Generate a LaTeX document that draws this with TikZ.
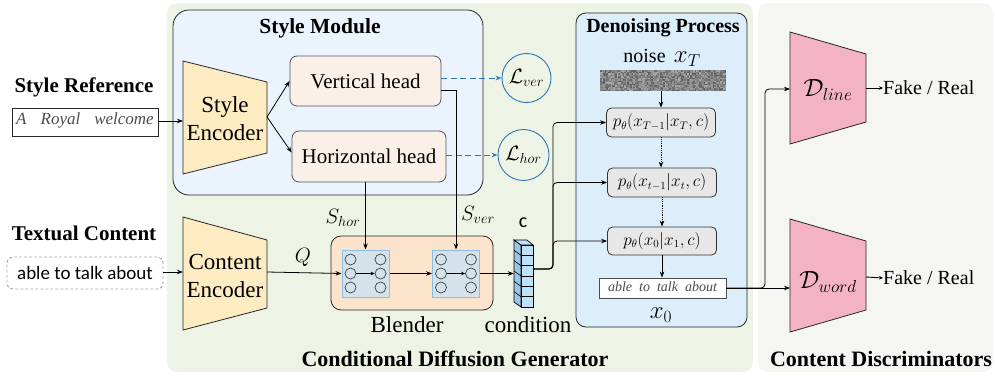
\documentclass[tikz,border=0pt]{standalone}
\usepackage{fontspec}
\setmainfont{Liberation Serif}
\newfontfamily\tms{Liberation Serif}
\newfontfamily\calib{Carlito}
\usetikzlibrary{arrows.meta,calc}
\definecolor{greenbg}{HTML}{EDF3E5}
\definecolor{graybg}{HTML}{F5F5F1}
\definecolor{stylebg}{HTML}{EBF3FC}
\definecolor{denbg}{HTML}{DDEEFB}
\definecolor{encfill}{HTML}{FDEBC1}
\definecolor{headfill}{HTML}{FBF0E8}
\definecolor{headdraw}{HTML}{4A5568}
\definecolor{lossblue}{HTML}{2E75B6}
\definecolor{blendfill}{HTML}{FCE3CB}
\definecolor{gridfill}{HTML}{D4E2EB}
\definecolor{griddraw}{HTML}{8BBDE6}
\definecolor{discfill}{HTML}{F4B3C2}
\definecolor{stepfill}{HTML}{E7E7E7}
\definecolor{condA}{HTML}{BFE1F8}
\definecolor{condB}{HTML}{9CC6E6}
\tikzset{
  arr/.style={-{Stealth[length=6pt,width=4.5pt]}, line width=0.8pt},
  smallarr/.style={-{Stealth[length=4pt,width=3.5pt]}, line width=0.9pt},
  ttl/.style={font=\tms\bfseries\fontsize{21}{23}\selectfont, inner sep=0pt},
  bigttl/.style={font=\tms\bfseries\fontsize{22}{24}\selectfont, inner sep=0pt},
  lbl/.style={font=\tms\fontsize{20}{22}\selectfont, inner sep=0pt},
  biglbl/.style={font=\tms\fontsize{23}{28}\selectfont, inner sep=0pt, align=center},
  headbox/.style={draw=headdraw, fill=headfill, rounded corners=7pt, line width=0.8pt, inner sep=0pt, font=\tms\fontsize{21}{23}\selectfont},
  stepbox/.style={draw=black!80, fill=stepfill, rounded corners=5pt, line width=0.8pt, inner sep=0pt, minimum width=109pt, minimum height=29pt, font=\fontsize{16}{18}\selectfont},
  lossnode/.style={circle, draw=lossblue, line width=0.9pt, minimum size=49pt, inner sep=0pt, font=\fontsize{21}{22}\selectfont},
  trapline/.style={draw=black!85, line width=0.8pt},
  blendgrid/.style={draw=griddraw, fill=gridfill, line width=1pt, minimum width=47pt, minimum height=47pt, inner sep=0pt},
  neuron/.style={circle, draw=black!75, minimum size=11pt, inner sep=0pt, line width=0.7pt},
  bgbox/.style={rounded corners=10pt, inner sep=0pt},
  hand/.style={text=black!70, inner sep=0pt},
}
\begin{document}
\begin{tikzpicture}[x=1pt,y=-1pt]
\useasboundingbox (0,0) rectangle (995,375);
% backgrounds
\node[bgbox, fill=greenbg, minimum width=586pt, minimum height=369pt] (gen) at (460,187.5) {};
\node[bgbox, fill=graybg, minimum width=235pt, minimum height=369pt] (discbg) at (875.5,187.5) {};
\node[bgbox, draw=black!85, line width=0.8pt, fill=stylebg, minimum width=310pt, minimum height=185pt, rounded corners=16pt] (stylemod) at (328,102.5) {};
\node[bgbox, draw=black!85, line width=0.8pt, fill=denbg, minimum width=171pt, minimum height=314pt] (den) at (661.5,170) {};

% titles
\node[ttl, font=\tms\bfseries\fontsize{21.5}{23}\selectfont] (tstyle) at (320,28) {Style Module};
\node[ttl, font=\tms\bfseries\fontsize{20}{22}\selectfont] (tden) at (663,28) {Denoising Process};
\node[ttl] (tsref) at (84,87) {Style Reference};
\node[ttl] (ttext) at (84,233) {Textual Content};
\node[bigttl] (tgen) at (455,359) {Conditional Diffusion Generator};
\node[bigttl] (tdisc) at (881,359) {Content Discriminators};

% inputs
\node[draw=black!85, line width=0.8pt, fill=white, minimum width=146pt, minimum height=28pt, inner sep=0pt] (sref) at (85,122) {};
\node[hand, font=\tms\itshape\fontsize{17}{18}\selectfont] (srefhand) at (85,120) {A\hspace{14pt}Royal\hspace{14pt}welcome};
\node[draw=black!35, dash pattern=on 3pt off 2pt, line width=0.9pt, rounded corners=6pt, minimum width=156pt, minimum height=32pt, inner sep=0pt, font=\calib\fontsize{19}{21}\selectfont] (tcont) at (85,273) {able to talk about};

% style encoder
\draw[trapline, fill=encfill] (183,61) -- (267,82) -- (267,153) -- (183,174) -- cycle;
\node[biglbl] (senc) at (225,119) {Style\\Encoder};
\coordinate (sencIn) at (183,121);
\coordinate (sencOut) at (267,117);
% content encoder
\draw[trapline, fill=encfill] (183,217) -- (267,240) -- (267,308) -- (183,330) -- cycle;
\node[biglbl] (cenc) at (225,276) {Content\\Encoder};
\coordinate (cencIn) at (183,272);
\coordinate (cencOut) at (267,272);

\draw[arr] (sref.east |- sencIn) -- (sencIn);
\draw[arr] (tcont.east |- cencIn) -- (cencIn);

% heads
\node[headbox, minimum width=151pt, minimum height=50pt] (vh) at (365.5,81) {Vertical head};
\node[headbox, minimum width=154pt, minimum height=51pt] (hh) at (369,156.5) {Horizontal head};
\draw[arr] (sencOut) -- (vh.west);
\draw[arr] (sencOut) -- ($(hh.west)+(0,-4)$);

% losses
\node[lossnode] (lv) at (526.5,78) {$\mathcal{L}_{ver}$};
\node[lossnode, minimum width=51pt, minimum height=50pt] (lh) at (523.5,155) {$\mathcal{L}_{hor}$};
\draw[arr, lossblue, line width=1pt, dash pattern=on 6pt off 3.5pt] (vh.east |- lv.west) -- (lv.west);
\draw[arr, lossblue, line width=1pt, dash pattern=on 6pt off 3.5pt] (hh.east |- lh.west) -- (lh.west);

% blender
\node[bgbox, draw=black!85, line width=0.8pt, fill=blendfill, minimum width=162pt, minimum height=74pt] (blend) at (412,273) {};
\node[blendgrid] (g1) at (365.5,273.5) {};
\node[blendgrid] (g2) at (456,273.5) {};
\foreach \g in {g1,g2}{
  \foreach \r/\dy in {1/-14,2/0,3/14}{
    \node[neuron] (\g L\r) at ($(\g)+(-15,\dy)$) {};
    \node[neuron] (\g R\r) at ($(\g)+(15,\dy)$) {};
  }
  \draw[smallarr] (\g L2) -- (\g R2);
}
\node[biglbl] (lblend) at (407,325) {Blender};
\node[lbl, font=\fontsize{20}{21}\selectfont] (lq) at (303,257) {$Q$};
\draw[arr] (cencOut) -- (g1.west);
\draw[arr] (g1.east) -- (g2.west);
\draw[arr] (g1.north |- hh.south) -- (g1.north);
\draw[arr] ($(vh.east)+(0,9)$) -| (g2.north);
\node[lbl, font=\fontsize{20}{21}\selectfont] (lshor) at (343,218) {$S_{hor}$};
\node[lbl, font=\fontsize{20}{21}\selectfont] (lsver) at (478,215) {$S_{ver}$};

% condition stack
\node[minimum width=19pt, minimum height=67pt, inner sep=0pt] (cond) at (523.5,273.5) {};
\draw[line width=0.7pt, fill=condB] (514,240) -- (521,245) -- (521,307) -- (514,302) -- cycle;
\draw[line width=0.7pt, fill=condA] (514,240) -- (527,240) -- (533,245) -- (521,245) -- cycle;
\draw[line width=0.7pt, fill=condA] (521,245) rectangle (533,307);
\foreach \k in {1,...,5}{
  \draw[line width=0.6pt] (521,245+10.33*\k) -- (533,245+10.33*\k);
  \draw[line width=0.6pt] (514,240+10.33*\k) -- (521,245+10.33*\k);
}
\draw[arr] (g2.east) -- (cond.west |- g2.east);
\node[font=\calib\fontsize{20}{22}\selectfont, inner sep=0pt] (lc) at (523,223) {c};
\node[biglbl] (lcond) at (528,325) {condition};
\coordinate (condOut) at (533,269);

% denoising
\node[lbl] (lnoise) at (662,58) {noise \,{\fontsize{24}{24}\selectfont$x_T$}};
\node[fill=black!45, minimum width=126pt, minimum height=21pt, inner sep=0pt] (noise) at (663,80.5) {};
\pgfmathsetseed{7}
\foreach \i in {0,...,83}{
  \foreach \j in {0,...,13}{
    \pgfmathsetmacro\gv{int(33+rnd*32)}
    \fill[black!\gv] (600+1.5*\i,70+1.5*\j) rectangle ++(1.5,1.5);
  }
}
\node[stepbox] (s1) at (661,122.5) {$p_\theta(x_{T-1}|x_T,c)$};
\node[stepbox] (s2) at (662,182.5) {$p_\theta(x_{t-1}|x_t,c)$};
\node[stepbox, minimum height=28pt] (s3) at (662,241) {$p_\theta(x_0|x_1,c)$};
\node[draw=black!70, line width=0.8pt, fill=white, minimum width=127pt, minimum height=20pt, inner sep=0pt] (out) at (662.5,288) {};
\node[hand, font=\tms\itshape\fontsize{14}{15}\selectfont] (outhand) at (662.5,287) {able\hspace{7pt}to\hspace{7pt}talk\hspace{7pt}about};
\node[biglbl, font=\fontsize{26}{27}\selectfont] (lx0) at (661,315) {$x_0$};
\draw[arr] (noise.south -| s1.north) -- (s1.north);
\draw[arr, densely dotted] (s1.south) -- (s1.south |- s2.north);
\draw[arr, densely dotted] (s2.south) -- (s3.north);
\draw[arr] (s3.south) -- (out.north -| s3.south);
\foreach \s in {s1,s2,s3}{
  \draw[arr, rounded corners=4pt] (condOut) -- (553,269) |- (\s.west);
}

% discriminators
\draw[trapline, fill=discfill] (790,32) -- (866,54) -- (866,122) -- (790,144) -- cycle;
\node[font=\fontsize{24}{25}\selectfont, inner sep=0pt] (dl) at (828,90) {$\mathcal{D}_{line}$};
\draw[trapline, fill=discfill] (790,219) -- (866,241) -- (866,310) -- (790,332) -- cycle;
\node[font=\fontsize{24}{25}\selectfont, inner sep=0pt] (dw) at (828,282) {$\mathcal{D}_{word}$};
\coordinate (dlIn) at (790,89);
\coordinate (dwIn) at (790,287);
\coordinate (dlOut) at (866,88);
\coordinate (dwOut) at (866,277);
\node[lbl, anchor=west] (fr1) at (883,88) {Fake / Real};
\node[lbl, anchor=west] (fr2) at (883,278) {Fake / Real};
\draw[smallarr] (dlOut) -- (fr1.west);
\draw[smallarr] (dwOut) -- (fr2.west);
\draw[arr] (out.east) -- (out.east -| dwIn);
\draw[arr, rounded corners=4pt] (out.east) -- (765,288) |- (dlIn);
\end{tikzpicture}
\end{document}
